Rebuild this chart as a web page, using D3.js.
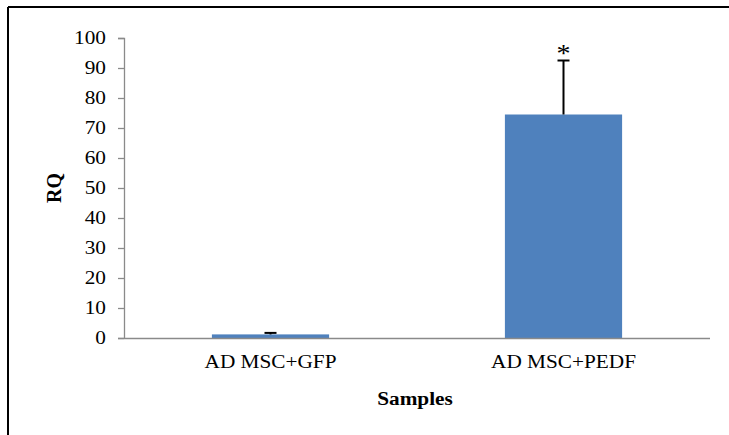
<!DOCTYPE html>
<meta charset="utf-8">
<html>
<head>
<script src="https://d3js.org/d3.v7.min.js"></script>
<style>
  body { margin: 0; background: #fff; }
  text { font-family: "Liberation Serif", "Times New Roman", serif; fill: #000; }
</style>
</head>
<body>
<svg id="chart" width="729" height="435"></svg>
<script>
// chart data
var samples = ["AD MSC+GFP", "AD MSC+PEDF"];
var rqValues = [1.2, 74.5];
var rqErrors = [0.5, 18];
var marks = ["", "*"];
var yTicks = [0, 10, 20, 30, 40, 50, 60, 70, 80, 90, 100];

var svg = d3.select("#chart");
var sx = 1.12; // picture text looks a little wide

// frame round the chart (only top and left show)
svg.append("line").attr("x1", 8).attr("x2", 729).attr("y1", 7).attr("y2", 7)
    .attr("stroke", "#000").attr("stroke-width", 2);
svg.append("line").attr("x1", 8).attr("x2", 8).attr("y1", 7).attr("y2", 435)
    .attr("stroke", "#000").attr("stroke-width", 2);

var y = d3.scaleLinear().domain([0, 100]).range([338, 38]);
var x = d3.scaleBand().domain(samples).range([124, 710])
    .paddingInner(0.6).paddingOuter(0.3);

// y axis
var yAxis = svg.append("g").attr("transform", "translate(124,0)")
    .call(d3.axisLeft(y).tickValues(yTicks).tickSize(6).tickFormat(""));
yAxis.selectAll("line, path").attr("stroke", "#8a8a8a").attr("stroke-width", 1.3);
yAxis.select(".domain").attr("d", "M-6,38.5H0.5V338.5");

svg.append("g").selectAll("text").data(yTicks).enter().append("text")
    .attr("transform", function(d) { return "translate(106," + (y(d) + 6) + ") scale(" + sx + ",1)"; })
    .attr("text-anchor", "end")
    .attr("font-size", 19)
    .text(function(d) { return d; });

// bars
svg.append("g").selectAll("rect").data(samples).enter().append("rect")
    .attr("x", function(d) { return x(d); })
    .attr("width", x.bandwidth())
    .attr("y", function(d, i) { return y(rqValues[i]); })
    .attr("height", function(d, i) { return y(0) - y(rqValues[i]); })
    .attr("fill", "#4f81bd");

// x axis line
svg.append("line").attr("x1", 118).attr("x2", 710)
    .attr("y1", 338.5).attr("y2", 338.5)
    .attr("stroke", "#8a8a8a").attr("stroke-width", 1.5);

// error bars (upper only)
var eb = svg.append("g").attr("stroke", "#000").attr("stroke-width", 2);
samples.forEach(function(s, i) {
    var cx = x(s) + x.bandwidth() / 2;
    eb.append("line").attr("x1", cx).attr("x2", cx)
        .attr("y1", y(rqValues[i])).attr("y2", y(rqValues[i] + rqErrors[i]));
    eb.append("line").attr("x1", cx - 6).attr("x2", cx + 6)
        .attr("y1", y(rqValues[i] + rqErrors[i])).attr("y2", y(rqValues[i] + rqErrors[i]));
    if (marks[i]) {
        svg.append("text")
            .attr("transform", "translate(" + cx + "," + (y(rqValues[i] + rqErrors[i]) + 1) + ") scale(" + sx + ",1)")
            .attr("text-anchor", "middle")
            .attr("font-size", 25)
            .text(marks[i]);
    }
});

// category labels
svg.append("g").selectAll("text").data(samples).enter().append("text")
    .attr("transform", function(d) { return "translate(" + (x(d) + x.bandwidth() / 2) + ",368) scale(" + sx + ",1)"; })
    .attr("text-anchor", "middle")
    .attr("font-size", 19)
    .text(function(d) { return d; });

// axis titles
svg.append("text")
    .attr("transform", "translate(415,405) scale(" + sx + ",1)")
    .attr("text-anchor", "middle")
    .attr("font-size", 19).attr("font-weight", "bold")
    .text("Samples");

svg.append("text")
    .attr("transform", "translate(61,188) rotate(-90)")
    .attr("text-anchor", "middle")
    .attr("font-size", 20).attr("font-weight", "bold")
    .text("RQ");
</script>
</body>
</html>
